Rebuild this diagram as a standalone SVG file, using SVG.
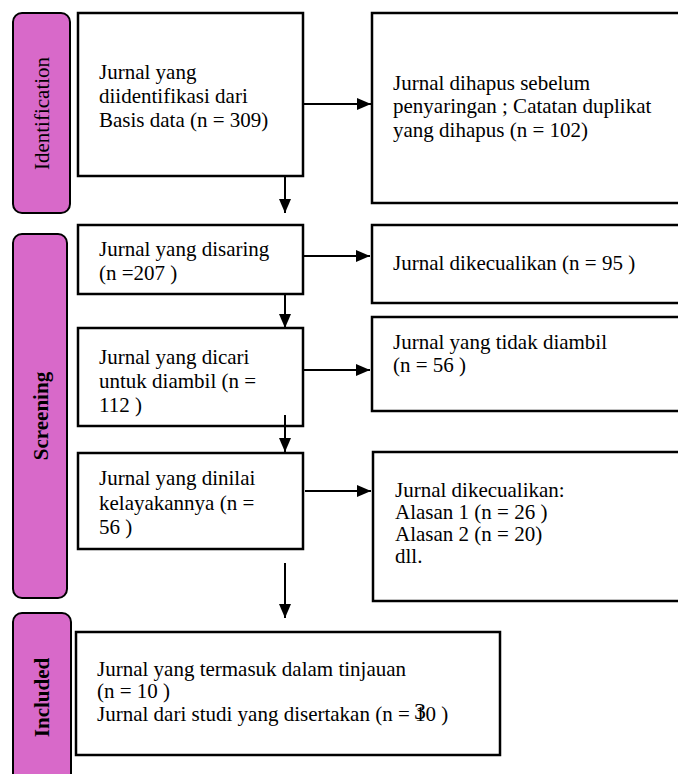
<svg xmlns="http://www.w3.org/2000/svg" width="678" height="774" viewBox="0 0 678 774">
<defs>
<style>
.bar{fill:#d869c9;stroke:#000;stroke-width:2}
.box{fill:#fff;stroke:#000;stroke-width:2.5}
.t{font-family:"Liberation Serif","Times New Roman",serif;font-size:21px;fill:#000}
.lb{font-family:"Liberation Serif","Times New Roman",serif;font-size:21px;fill:#000;text-anchor:middle}
.b{font-weight:bold}
.c{stroke:#000;stroke-width:2;fill:none}
</style>
<marker id="ah" viewBox="0 0 14 12" refX="14" refY="6" markerWidth="14" markerHeight="12" markerUnits="userSpaceOnUse" orient="auto">
<path d="M0,0 L14,6 L0,12 z" fill="#000"/>
</marker>
</defs>
<rect width="678" height="774" fill="#fff"/>

<g id="bar-identification">
<rect class="bar" x="13" y="13" width="57" height="200" rx="9"/>
<text class="lb" transform="translate(49,113.5) rotate(-90)">Identification</text>
</g>
<g id="bar-screening">
<rect class="bar" x="13" y="234" width="54" height="364" rx="9"/>
<text class="lb b" transform="translate(48,416) rotate(-90)">Screening</text>
</g>
<g id="bar-included">
<rect class="bar" x="13" y="613" width="58" height="180" rx="9"/>
<text class="lb b" transform="translate(49,697.5) rotate(-90)">Included</text>
</g>

<g id="n-identified">
<rect class="box" x="78" y="13" width="225" height="163"/>
<text class="t" x="99" y="79">Jurnal yang</text>
<text class="t" x="99" y="103">diidentifikasi dari</text>
<text class="t" x="99" y="127">Basis data (n = 309)</text>
</g>
<g id="n-removed">
<rect class="box" x="372" y="13" width="320" height="190"/>
<text class="t" x="393" y="90">Jurnal dihapus sebelum</text>
<text class="t" x="393" y="113">penyaringan ; Catatan duplikat</text>
<text class="t" x="393" y="137">yang dihapus (n = 102)</text>
</g>
<g id="n-screened">
<rect class="box" x="78" y="225" width="225" height="69"/>
<text class="t" x="99" y="256">Jurnal yang disaring</text>
<text class="t" x="99" y="280">(n =207 )</text>
</g>
<g id="n-excluded1">
<rect class="box" x="372" y="225" width="320" height="78"/>
<text class="t" x="393" y="270">Jurnal dikecualikan (n = 95 )</text>
</g>
<g id="n-sought">
<rect class="box" x="78" y="328" width="225" height="98"/>
<text class="t" x="99" y="364">Jurnal yang dicari</text>
<text class="t" x="99" y="388">untuk diambil (n =</text>
<text class="t" x="99" y="412">112 )</text>
</g>
<g id="n-notretrieved">
<rect class="box" x="372" y="317" width="320" height="94"/>
<text class="t" x="393" y="349">Jurnal yang tidak diambil</text>
<text class="t" x="393" y="372">(n = 56 )</text>
</g>
<g id="n-assessed">
<rect class="box" x="78" y="453" width="225" height="96"/>
<text class="t" x="99" y="485">Jurnal yang dinilai</text>
<text class="t" x="99" y="510">kelayakannya (n =</text>
<text class="t" x="99" y="534">56  )</text>
</g>
<g id="n-excluded2">
<rect class="box" x="373" y="452" width="320" height="149"/>
<text class="t" x="395" y="497">Jurnal dikecualikan:</text>
<text class="t" x="395" y="519">Alasan 1 (n = 26 )</text>
<text class="t" x="395" y="541">Alasan 2 (n = 20)</text>
<text class="t" x="395" y="563">dll.</text>
</g>
<g id="n-included">
<rect class="box" x="76" y="632" width="424" height="123"/>
<text class="t" x="97" y="676">Jurnal yang termasuk dalam tinjauan</text>
<text class="t" x="97" y="698">(n = 10 )</text>
<text class="t" x="97" y="721">Jurnal dari studi yang disertakan (n = 10 )</text>
</g>

<g id="connectors">
<line class="c" x1="303" y1="104" x2="371" y2="104" marker-end="url(#ah)"/>
<line class="c" x1="285" y1="176" x2="285" y2="213" marker-end="url(#ah)"/>
<line class="c" x1="303" y1="256" x2="370" y2="256" marker-end="url(#ah)"/>
<line class="c" x1="285" y1="294" x2="285" y2="328" marker-end="url(#ah)"/>
<line class="c" x1="303" y1="370" x2="370" y2="370" marker-end="url(#ah)"/>
<line class="c" x1="285" y1="415" x2="285" y2="452" marker-end="url(#ah)"/>
<line class="c" x1="305" y1="491" x2="371" y2="491" marker-end="url(#ah)"/>
<line class="c" x1="285" y1="563" x2="285" y2="618" marker-end="url(#ah)"/>
</g>

<text class="t" x="414" y="719" style="font-size:24px">3</text>
</svg>
